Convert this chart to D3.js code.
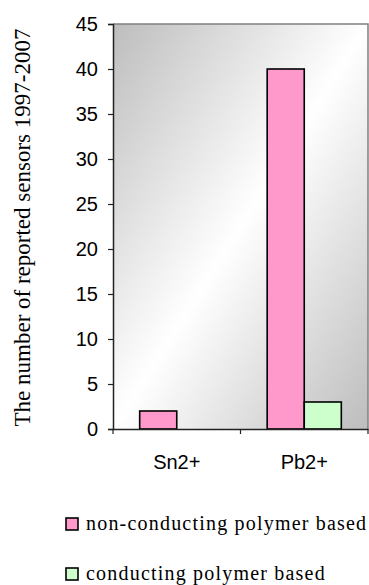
<!DOCTYPE html>
<html>
<head>
<meta charset="utf-8">
<script src="https://cdn.jsdelivr.net/npm/d3@7"></script>
<style>
  body { margin: 0; background: #fff; }
  svg { display: block; }
</style>
</head>
<body>
<div id="vis"></div>
<script>
// chart data
const categories = ['Sn2+', 'Pb2+']
const seriesNames = ['non-conducting polymer based', 'conducting polymer based']
const nonConducting = [2, 40]
const conducting = [0, 3]
const yTicks = [0, 5, 10, 15, 20, 25, 30, 35, 40, 45]
const colors = ['#ff99cc', '#ccffcc']

const width = 369, height = 585
const margin = {left: 113, top: 24, right: 1, bottom: 156}

let svg = d3.select('#vis')
    .append('svg')
    .attr('width', width)
    .attr('height', height)

// plot background gradient
let defs = svg.append('defs')
let grad = defs.append('linearGradient')
    .attr('id', 'bg')
    .attr('x1', 0).attr('y1', 0)
    .attr('x2', 1).attr('y2', 1)
grad.append('stop').attr('offset', '0%').attr('stop-color', '#bdbdbd')
grad.append('stop').attr('offset', '50%').attr('stop-color', '#ffffff')
grad.append('stop').attr('offset', '100%').attr('stop-color', '#bdbdbd')

let xScale = d3.scaleBand()
    .domain(categories)
    .range([margin.left, width - margin.right])

let xSeries = d3.scaleBand()
    .domain(seriesNames)
    .range([0, xScale.bandwidth()])
    .paddingOuter(0.72)

let yScale = d3.scaleLinear()
    .domain([0, 45])
    .range([height - margin.bottom, margin.top])

svg.append('rect')
    .attr('x', margin.left)
    .attr('y', margin.top)
    .attr('width', width - margin.right - margin.left)
    .attr('height', yScale(0) - yScale(45))
    .attr('fill', 'url(#bg)')

// gray border on top and right
svg.append('path')
    .attr('d', `M${margin.left},${margin.top}H${width - margin.right}V${yScale(0)}`)
    .attr('fill', 'none')
    .attr('stroke', '#808080')
    .attr('stroke-width', 1.5)

// bars
let rows = []
categories.forEach((c, i) => {
    rows.push({cat: c, series: seriesNames[0], value: nonConducting[i], color: colors[0]})
    rows.push({cat: c, series: seriesNames[1], value: conducting[i], color: colors[1]})
})

svg.selectAll('.bar')
    .data(rows.filter(d => d.value > 0))
    .enter()
    .append('rect')
        .attr('class', 'bar')
        .attr('x', d => xScale(d.cat) + xSeries(d.series))
        .attr('y', d => yScale(d.value))
        .attr('width', xSeries.bandwidth())
        .attr('height', d => yScale(0) - yScale(d.value))
        .attr('fill', d => d.color)
        .attr('stroke', '#000')
        .attr('stroke-width', 1.6)

// y axis
let yAxis = d3.axisLeft(yScale)
    .tickValues(yTicks)
    .tickSize(5)
    .tickPadding(10)

svg.append('g')
    .attr('transform', `translate(${margin.left},0)`)
    .call(yAxis)
    .call(g => g.select('.domain').attr('stroke', '#222').attr('stroke-width', 1.5))
    .call(g => g.selectAll('.tick line').attr('stroke', '#222').attr('stroke-width', 1.2))
    .call(g => g.selectAll('.tick text')
        .attr('font-family', 'Liberation Sans, Arial, sans-serif')
        .attr('font-size', '20px')
        .attr('fill', '#000'))

// x axis (ticks between categories)
let xAxis = d3.axisBottom(xScale).tickSize(0).tickPadding(26)
let xAxisGroup = svg.append('g')
    .attr('transform', `translate(0,${yScale(0)})`)
    .call(xAxis)
    .call(g => g.select('.domain').attr('stroke', '#222').attr('stroke-width', 1.5))
    .call(g => g.selectAll('.tick text')
        .attr('font-family', 'Liberation Sans, Arial, sans-serif')
        .attr('font-size', '20px')
        .attr('fill', '#000'))

let sepTicks = [xScale(categories[0]), xScale(categories[1]), xScale(categories[1]) + xScale.bandwidth()]
xAxisGroup.selectAll('.sep')
    .data(sepTicks)
    .enter()
    .append('line')
        .attr('class', 'sep')
        .attr('x1', d => d).attr('x2', d => d)
        .attr('y1', 0).attr('y2', 5)
        .attr('stroke', '#222')
        .attr('stroke-width', 1.2)

// y label
svg.append('text')
    .attr('transform', `translate(30,${(yScale(0) + yScale(45)) / 2 + 1}) rotate(-90)`)
    .attr('text-anchor', 'middle')
    .attr('font-family', 'Liberation Serif, Times New Roman, serif')
    .attr('font-size', '23px')
    .attr('fill', '#000')
    .text('The number of reported sensors 1997-2007')

// legend
let legend = svg.selectAll('.legend')
    .data(seriesNames)
    .enter()
    .append('g')
        .attr('class', 'legend')
        .attr('transform', (d, i) => `translate(66,${530 + i * 50})`)

legend.append('rect')
    .attr('x', 0)
    .attr('y', -12)
    .attr('width', 12)
    .attr('height', 12)
    .attr('fill', (d, i) => colors[i])
    .attr('stroke', '#000')
    .attr('stroke-width', 1.6)

legend.append('text')
    .attr('x', 20)
    .attr('y', 0)
    .attr('font-family', 'Liberation Serif, Times New Roman, serif')
    .attr('font-size', '20px')
    .attr('letter-spacing', '1.2px')
    .attr('fill', '#000')
    .text(d => d)
</script>
</body>
</html>
